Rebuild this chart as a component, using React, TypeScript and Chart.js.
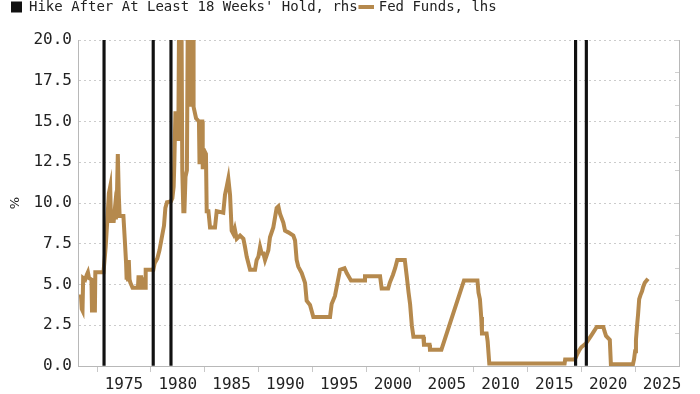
import React, { useEffect, useRef } from 'react';
import { Chart, registerables } from 'chart.js';

Chart.register(...registerables);

// Fed Funds rate (lhs, %): decimal year and value
const ffYears = [
  1971.0, 1971.08, 1971.15, 1971.21, 1971.4, 1971.55, 1971.65, 1971.75, 1971.98, 1972.03, 1972.3, 1972.34, 1973.1,
  1973.3, 1973.45, 1973.6, 1973.72, 1973.8, 1974.05, 1974.15, 1974.25, 1974.35, 1974.43, 1974.52, 1974.6, 1974.95,
  1975.1, 1975.2, 1975.25, 1975.3, 1975.38, 1975.45, 1975.52, 1975.6, 1975.8, 1976.3, 1976.35, 1976.6, 1976.65,
  1976.97, 1977.02, 1977.73,
  1977.85, 1978.1, 1978.3, 1978.55, 1978.72, 1978.85, 1979.0, 1979.37, 1979.5, 1979.62, 1979.68, 1979.78, 1980.0,
  1980.05, 1980.12, 1980.35, 1980.42, 1980.52, 1980.62, 1980.72, 1980.85, 1980.93, 1981.15, 1981.18, 1981.23,
  1981.42, 1981.47, 1981.7, 1981.97, 1982.02, 1982.12, 1982.16, 1982.28, 1982.32, 1982.42, 1982.47, 1982.62,
  1982.69, 1982.85, 1983.0, 1983.46, 1983.62, 1984.23, 1984.39, 1984.55, 1984.7, 1984.86, 1985.01, 1985.17,
  1985.3, 1985.48, 1985.79, 1986.1, 1986.25, 1986.41, 1986.72, 1987.18, 1987.33, 1987.49, 1987.65, 1987.8,
  1987.96, 1988.11, 1988.42, 1988.57, 1988.88, 1989.19, 1989.35, 1989.5, 1989.81, 1989.97, 1990.27, 1990.74,
  1990.9, 1991.05, 1991.2, 1991.52, 1991.83, 1991.98, 1992.29, 1992.6, 1994.15, 1994.3, 1994.61, 1994.77,
  1995.08, 1995.5, 1995.7, 1996.1, 1997.35, 1997.4, 1998.8, 1998.95, 1999.55, 1999.7, 2000.0, 2000.2, 2000.4,
  2001.1, 2001.28, 2001.45, 2001.59, 2001.75, 2001.9, 2002.82, 2002.88, 2003.4, 2003.44, 2004.5, 2006.6,
  2007.85, 2007.95, 2008.08, 2008.2, 2008.27, 2008.7, 2008.8, 2008.95, 2015.95, 2016.0, 2016.9, 2017.1, 2017.3,
  2017.5, 2017.95, 2018.2, 2018.45, 2018.7, 2018.93, 2019.55, 2019.65, 2019.8, 2020.15, 2020.25, 2022.3,
  2022.4, 2022.5, 2022.58, 2022.7, 2022.78, 2022.88, 2023.0, 2023.15, 2023.25, 2023.4, 2023.7,
];
const ffValues = [
  4.4, 3.5, 3.4, 5.4, 5.3, 5.6, 5.75, 5.4, 5.3, 3.4, 3.4, 5.75, 5.75,
  7.3, 8.9, 10.6, 11.0, 8.9, 8.9, 9.6, 9.0, 10.5, 13.0, 10.5, 9.2, 9.2,
  7.5, 6.3, 5.3, 6.5, 5.3, 6.5, 5.3, 5.1, 4.8, 4.8, 5.45, 5.45, 4.8,
  4.8, 5.9, 5.9,
  6.3, 6.6, 7.1, 8.0, 8.6, 9.7, 10.05, 10.1, 10.3, 11.0, 12.4, 15.5, 15.5,
  13.8, 21, 21, 12.0, 9.5, 9.5, 11.6, 12.0, 21, 21, 15.9, 21,
  21, 15.9, 15.2, 15.0, 12.5, 12.5, 15.0, 15.0, 12.2, 12.2, 13.2, 13.0,
  9.5, 9.5, 8.5, 8.5, 9.5, 9.4, 10.5, 11.0, 11.5, 10.5, 8.3, 8.1,
  8.4, 7.8, 8.0, 7.8, 7.3, 6.7, 5.9, 5.9, 6.5, 6.7, 7.3, 6.9,
  6.9, 6.5, 7.1, 7.9, 8.5, 9.7, 9.8, 9.35, 8.8, 8.3, 8.2, 8.0,
  7.7, 6.5, 6.1, 5.7, 5.1, 4.0, 3.75, 3.0, 3.0, 3.8, 4.3, 4.85,
  5.9, 6.0, 5.7, 5.25, 5.25, 5.5, 5.5, 4.75, 4.75, 5.1, 5.6, 6.0, 6.5,
  6.5, 5.5, 4.5, 3.8, 2.5, 1.8, 1.8, 1.3, 1.3, 1.0, 1.0, 5.25,
  5.25, 4.5, 4.1, 3.0, 2.0, 2.0, 1.5, 0.15, 0.15, 0.4, 0.4, 0.7, 0.95,
  1.15, 1.4, 1.65, 1.9, 2.15, 2.4, 2.4, 2.15, 1.85, 1.6, 0.1, 0.1,
  0.4, 0.9, 1.6, 2.6, 3.2, 4.1, 4.35, 4.6, 4.85, 5.1, 5.35,
];

// Hike after at least 18 weeks' hold (rhs, 0/1 indicator)
const hikeDates = [1973.15, 1977.72, 1979.37, 2016.97, 2017.97];
const hikeValues = [1, 1, 1, 1, 1];

const xTickYears = [1975, 1980, 1985, 1990, 1995, 2000, 2005, 2010, 2015, 2020, 2025];
const yTickValues = [0, 2.5, 5, 7.5, 10, 12.5, 15, 17.5, 20];
const rhsTickValues = [0, 0.1, 0.2, 0.3, 0.4, 0.5, 0.6, 0.7, 0.8, 0.9, 1];

const labelHike = "Hike After At Least 18 Weeks' Hold, rhs";
const labelFed = 'Fed Funds, lhs';

const X_MIN = 1970.73;
const X_MAX = 2026.58;

export default function App() {
  const ref = useRef<HTMLCanvasElement>(null);

  useEffect(() => {
    const mono = 'DejaVu Sans Mono';
    const chart = new Chart(ref.current as HTMLCanvasElement, {
      type: 'line',
      data: {
        datasets: [
          {
            type: 'bar',
            label: labelHike,
            data: hikeDates.map((d, i) => ({ x: d, y: hikeValues[i] })),
            xAxisID: 'x',
            yAxisID: 'yR',
            backgroundColor: '#111111',
            borderWidth: 0,
            barThickness: 2.5,
            pointStyle: 'rect',
          } as any,
          {
            type: 'line',
            label: labelFed,
            data: ffYears.map((d, i) => ({ x: d, y: ffValues[i] })),
            xAxisID: 'x',
            yAxisID: 'y',
            borderColor: '#B5894D',
            backgroundColor: '#B5894D',
            borderWidth: 4,
            pointRadius: 0,
            pointStyle: 'line',
            tension: 0,
            clip: 0,
          } as any,
        ],
      },
      options: {
        animation: false,
        responsive: true,
        maintainAspectRatio: false,
        events: [],
        layout: { padding: { top: -3, left: 8, right: 0, bottom: 0 } },
        plugins: {
          tooltip: { enabled: false },
          legend: {
            position: 'top',
            align: 'start',
            labels: {
              usePointStyle: true,
              boxWidth: 11,
              boxHeight: 11,
              padding: 3,
              color: '#222',
              font: { family: mono, size: 14 },
            },
          },
        },
        scales: {
          x: {
            type: 'linear',
            position: 'bottom',
            min: X_MIN,
            max: X_MAX,
            offset: false,
            afterBuildTicks: (s: any) => {
              s.ticks = xTickYears.map((v) => ({ value: v }));
            },
            afterFit: (s: any) => {
              s.height = 28;
            },
            ticks: {
              callback: (v: any) => String(v),
              color: '#222',
              padding: 3,
              maxRotation: 0,
              autoSkip: false,
              font: { family: mono, size: 16 },
            },
            grid: {
              drawOnChartArea: false,
              drawTicks: true,
              tickLength: 6,
              tickColor: '#c8c8c8',
            },
            border: { color: '#b8b8b8', width: 1 },
          },
          xTop: {
            type: 'linear',
            position: 'top',
            min: X_MIN,
            max: X_MAX,
            ticks: { display: false },
            grid: { display: false },
            border: { display: false },
            afterFit: (s: any) => {
              s.height = 16;
            },
          },
          y: {
            type: 'linear',
            position: 'left',
            min: 0,
            max: 20,
            afterBuildTicks: (s: any) => {
              s.ticks = yTickValues.map((v) => ({ value: v }));
            },
            afterFit: (s: any) => {
              s.width = 70;
            },
            title: {
              display: true,
              text: '%',
              color: '#222',
              padding: { top: 0, bottom: 0 },
              font: { family: 'DejaVu Sans', size: 13 },
            },
            ticks: {
              callback: (v: any) => Number(v).toFixed(1),
              color: '#222',
              padding: 6,
              font: { family: mono, size: 16 },
            },
            grid: {
              color: '#cccccc',
              lineWidth: 1,
              drawTicks: false,
            },
            border: { color: '#b8b8b8', width: 1, dash: [2, 3] },
          },
          yR: {
            type: 'linear',
            position: 'right',
            min: 0,
            max: 1,
            afterBuildTicks: (s: any) => {
              s.ticks = rhsTickValues.map((v) => ({ value: v }));
            },
            afterFit: (s: any) => {
              s.width = 21;
            },
            ticks: { display: false },
            grid: {
              drawOnChartArea: false,
              drawTicks: true,
              tickLength: -4,
              tickColor: '#cfcfcf',
            },
            border: { color: '#b8b8b8', width: 1 },
          },
        },
      } as any,
    });
    return () => chart.destroy();
  }, []);

  return (
    <div style={{ position: 'fixed', left: 0, top: 0, width: 700, height: 394, background: '#ffffff' }}>
      <canvas ref={ref} />
    </div>
  );
}
